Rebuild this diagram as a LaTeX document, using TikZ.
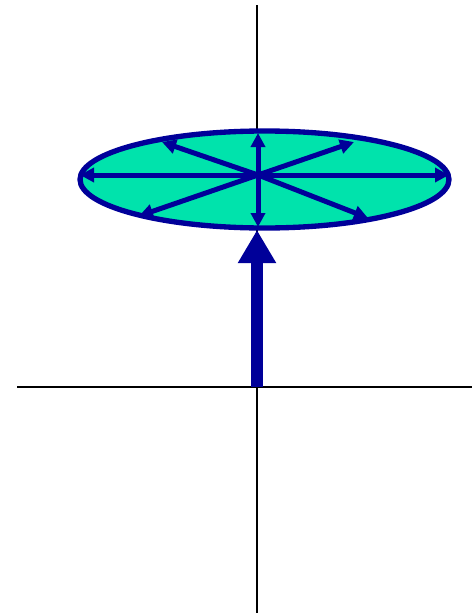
\documentclass[tikz,border=0pt]{standalone}
\usepackage{tikz}
\usetikzlibrary{arrows.meta}
\definecolor{navy}{HTML}{000099}
\definecolor{disc}{HTML}{00E3AC}
\tikzset{
  axisline/.style={draw=black,line width=0.06cm},
  discface/.style={draw=navy,fill=disc,line width=0.16cm},
  spoke/.style={navy,line width=0.15cm,
                -{Triangle[length=0.42cm,width=0.42cm]}},
  bigarr/.style={navy,line width=0.36cm,
                 -{Triangle[length=0.99cm,width=1.08cm]}}
}
\begin{document}
\begin{tikzpicture}[x=0.03cm,y=-0.03cm]
  \useasboundingbox (0,0) rectangle (472,613);
  % axes
  \coordinate (top) at (257,5);
  \coordinate (bottom) at (257,613);
  \coordinate (left) at (17,387);
  \coordinate (right) at (472,387);
  \coordinate (origin) at (257,387);
  \draw[axisline] (top) -- (bottom);
  \draw[axisline] (left) -- (right);

  % disc with spokes
  \coordinate (mid) at (264.5,179.5);
  \draw[discface] (mid) ellipse [x radius=184.5, y radius=48.5];
  \coordinate (hub) at (258,175);
  \coordinate (e) at (449,175);
  \coordinate (w) at (80,175);
  \coordinate (n) at (258,133);
  \coordinate (s) at (258,227);
  \coordinate (ne) at (354,142);
  \coordinate (nw) at (162,142);
  \coordinate (se) at (368,218);
  \coordinate (sw) at (139,216);
  \foreach \d in {e,w,n,s,ne,nw,se,sw}
    \draw[spoke] (hub) -- (\d);

  % big vector
  \coordinate (tip) at (257,230);
  \draw[bigarr] (origin) -- (tip);
\end{tikzpicture}
\end{document}
